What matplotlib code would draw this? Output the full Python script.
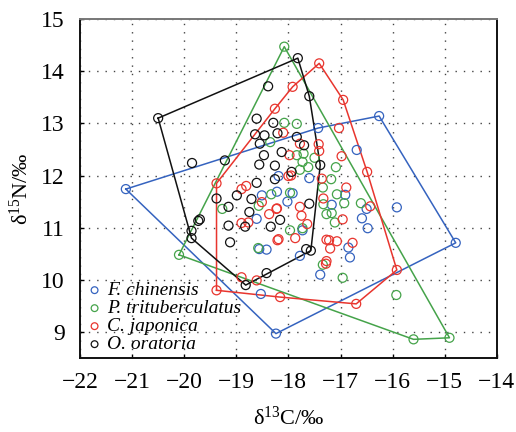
import numpy as np
import matplotlib
matplotlib.use('Agg')
import matplotlib.pyplot as plt

plt.rcParams['font.family'] = ['Liberation Serif', 'DejaVu Serif']
plt.rcParams['mathtext.fontset'] = 'custom'
plt.rcParams['mathtext.rm'] = 'Liberation Serif'
plt.rcParams['mathtext.it'] = 'Liberation Serif:italic'
plt.rcParams['mathtext.default'] = 'regular'

species = ['F. chinensis', 'P. trituberculatus', 'C. japonica', 'O. oratoria']
colors = ['#3563BF', '#45A34A', '#E8352E', '#111111']

fc_x = [-21.12, -17.43, -16.26, -14.79, -18.24, -16.69, -18.19, -17.60, -17.92, -16.91,
        -18.02, -17.17, -16.50, -15.92, -16.59, -16.48, -17.73, -16.85, -16.82, -17.78,
        -17.39, -18.51, -18.22, -18.61, -18.56, -18.42, -18.53]
fc_y = [11.74, 12.91, 13.14, 10.71, 8.97, 12.49, 11.99, 11.95, 11.66, 11.63,
        11.50, 11.44, 11.36, 11.39, 11.18, 10.99, 10.95, 10.62, 10.43, 10.46,
        10.10, 11.62, 11.69, 11.17, 10.59, 10.58, 9.73]

pt_x = [-20.10, -18.08, -14.91, -15.60, -18.08, -17.84, -18.35, -17.84, -17.71, -17.73,
        -17.50, -17.78, -17.62, -17.09, -17.18, -17.34, -17.97, -17.07, -17.33, -16.93,
        -16.61, -17.27, -17.17, -17.11, -17.97, -17.73, -17.34, -16.96, -15.93, -19.27,
        -18.33, -18.57, -18.58]
pt_y = [10.48, 14.47, 8.89, 8.86, 13.01, 12.99, 12.64, 12.39, 12.42, 12.26,
        12.34, 12.11, 12.16, 12.16, 11.93, 11.77, 11.67, 11.64, 11.45, 11.47,
        11.47, 11.26, 11.28, 11.10, 10.95, 10.99, 10.29, 10.04, 9.71, 11.36,
        11.64, 11.42, 10.61]

cj_x = [-19.38, -19.38, -16.70, -15.92, -16.49, -16.95, -17.41, -17.92, -18.26, -18.10,
        -17.98, -18.00, -17.95, -17.03, -17.78, -17.42, -17.41, -16.98, -17.36, -16.89,
        -17.33, -16.43, -17.78, -18.23, -17.75, -16.96, -17.64, -17.87, -18.21, -17.27,
        -17.22, -17.07, -16.77, -17.20, -17.27, -17.28, -18.16, -18.90, -18.81, -18.51,
        -18.22, -18.37, -18.90, -18.77, -18.19, -18.90, -18.61]
cj_y = [11.85, 9.80, 9.54, 10.19, 12.07, 13.45, 14.15, 13.70, 13.28, 12.82,
        12.39, 11.99, 12.00, 12.91, 12.61, 12.60, 12.47, 12.37, 11.94, 11.77,
        11.56, 11.41, 11.40, 11.36, 11.23, 11.16, 11.07, 10.80, 10.76, 10.77,
        10.76, 10.74, 10.71, 10.60, 10.36, 10.31, 9.67, 11.74, 11.80, 11.49,
        11.37, 11.26, 11.09, 11.10, 10.78, 10.05, 9.99]

oo_x = [-20.50, -17.82, -17.60, -17.39, -17.66, -17.57, -18.42, -18.82, -19.86, -19.85,
        -19.22, -18.39, -18.61, -18.29, -18.64, -18.46, -18.21, -18.55, -18.47, -18.13,
        -18.56, -18.26, -17.84, -17.70, -17.94, -18.26, -17.60, -18.16, -19.38, -19.15,
        -18.99, -18.61, -18.71, -18.75, -18.83, -19.15, -18.34, -19.70, -19.73, -19.86,
        -19.12]
oo_y = [13.10, 14.25, 13.52, 12.20, 10.59, 10.56, 10.13, 9.90, 10.80, 12.24,
        12.29, 13.71, 13.09, 13.01, 12.79, 12.77, 12.81, 12.61, 12.39, 12.45,
        12.21, 12.19, 12.74, 12.58, 12.07, 11.93, 11.46, 11.15, 11.56, 11.40,
        11.62, 11.86, 11.55, 11.30, 11.02, 11.04, 11.02, 11.16, 11.13, 10.94,
        10.72]

xs_all = [fc_x, pt_x, cj_x, oo_x]
ys_all = [fc_y, pt_y, cj_y, oo_y]

xticks = [-22, -21, -20, -19, -18, -17, -16, -15, -14]
yticks = [9, 10, 11, 12, 13, 14, 15]


def convex_hull(xs, ys):
    pts = sorted(set(zip(xs, ys)))

    def cross(o, a, b):
        return (a[0] - o[0]) * (b[1] - o[1]) - (a[1] - o[1]) * (b[0] - o[0])

    lower = []
    for p in pts:
        while len(lower) >= 2 and cross(lower[-2], lower[-1], p) <= 0:
            lower.pop()
        lower.append(p)
    upper = []
    for p in reversed(pts):
        while len(upper) >= 2 and cross(upper[-2], upper[-1], p) <= 0:
            upper.pop()
        upper.append(p)
    hull = lower[:-1] + upper[:-1]
    hull.append(hull[0])
    return [p[0] for p in hull], [p[1] for p in hull]


fig = plt.figure(figsize=(5.16, 4.32), dpi=100)
ax = fig.add_axes([0.155, 0.171, 0.808, 0.785])

for xs, ys, name, c in zip(xs_all, ys_all, species, colors):
    hx, hy = convex_hull(xs, ys)
    ax.plot(hx, hy, color=c, lw=1.1, zorder=2)
    ax.scatter(xs, ys, s=42, facecolors='none', edgecolors=c, linewidths=0.9,
               zorder=3, label=name)

ax.set_xlim(-22, -14)
ax.set_ylim(8.5, 15)
ax.set_xticks(xticks)
ax.set_yticks(yticks)
ax.tick_params(direction='in', length=3, width=1, labelsize=17)
ax.tick_params(axis='x', pad=10)
ax.tick_params(axis='y', pad=11)
ax.grid(True, linestyle=(0, (1, 5)), color='#444444', linewidth=1.0)
ax.set_axisbelow(True)

for side in ['left', 'bottom', 'right']:
    ax.spines[side].set_color('#111111')
    ax.spines[side].set_linewidth(1.4)
ax.spines['top'].set_color('#777777')
ax.spines['top'].set_linewidth(1.4)

ax.set_xlabel(r'δ$^{13}$C/‰', fontsize=16, labelpad=10)
ax.set_ylabel(r'δ$^{15}$N/‰', fontsize=16, labelpad=6)

leg = ax.legend(loc='lower left', frameon=False, markerscale=0.75,
                handletextpad=0.15, labelspacing=0.02, borderaxespad=0.0,
                borderpad=0.25, handlelength=1.0,
                prop={'style': 'italic', 'size': 14})

fig.savefig('out.png', dpi=100)
